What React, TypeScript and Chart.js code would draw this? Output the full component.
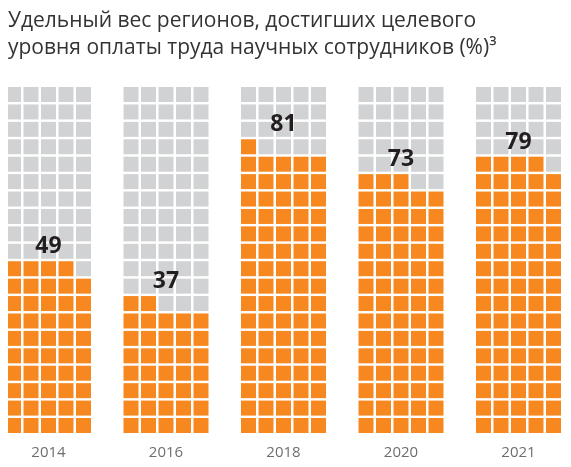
import { useEffect, useRef } from "react"
import { Chart, registerables } from "chart.js"

Chart.register(...registerables)

const years = ["2014", "2016", "2018", "2020", "2021"]
const shares = [49, 37, 81, 73, 79]
const titleLines = [
  "Удельный вес регионов, достигших целевого",
  "уровня оплаты труда научных сотрудников (%)³",
]

const COLS = 5
const ROWS = 20
const GROUP_STEP = 117.5 / 17.5 // group spacing in column units
const CELL = 15
const ORANGE = "#f7881f"
const GREY = "#d1d2d4"

export default function App() {
  const chartRef = useRef<HTMLCanvasElement | null>(null)
  const chartInstance = useRef<Chart | null>(null)

  useEffect(() => {
    document.body.style.margin = "0"
    if (!chartRef.current) return

    const filled: { x: number; y: number }[] = []
    const empty: { x: number; y: number }[] = []
    shares.forEach((v, g) => {
      for (let k = 0; k < COLS * ROWS; k++) {
        const pt = { x: g * GROUP_STEP + (k % COLS), y: Math.floor(k / COLS) }
        if (k < v) filled.push(pt)
        else empty.push(pt)
      }
    })

    const valueLabels = {
      id: "valueLabels",
      afterDatasetsDraw(chart: Chart) {
        const { ctx, scales } = chart
        ctx.save()
        ctx.font = "bold 23px 'Open Sans'"
        ctx.fillStyle = "#231f20"
        ctx.textAlign = "center"
        ctx.textBaseline = "alphabetic"
        shares.forEach((v, g) => {
          const row = Math.floor((v - 1) / COLS)
          const x = scales.x.getPixelForValue(g * GROUP_STEP + 2)
          const top = scales.y.getPixelForValue(row) - CELL / 2
          ctx.fillText(String(v), x, top - 8)
        })
        ctx.restore()
      },
    }

    if (chartInstance.current) {
      chartInstance.current.destroy()
    }

    const ctx = chartRef.current.getContext("2d")

    if (ctx) {
      chartInstance.current = new Chart(ctx, {
        type: "scatter",
        data: {
          datasets: [
            {
              label: "filled",
              data: filled,
              backgroundColor: ORANGE,
              borderWidth: 0,
              pointStyle: "rect",
              pointRadius: CELL / Math.SQRT2,
              pointHoverRadius: CELL / Math.SQRT2,
            },
            {
              label: "empty",
              data: empty,
              backgroundColor: GREY,
              borderWidth: 0,
              pointStyle: "rect",
              pointRadius: CELL / Math.SQRT2,
              pointHoverRadius: CELL / Math.SQRT2,
            },
          ],
        },
        options: {
          animation: false,
          responsive: true,
          maintainAspectRatio: false,
          events: [],
          layout: {
            autoPadding: false,
            padding: { left: 8, top: 0, right: 0, bottom: 0 },
          },
          plugins: {
            legend: { display: false },
            tooltip: { enabled: false },
            title: {
              display: true,
              text: titleLines,
              align: "start",
              color: "#333333",
              font: { family: "'Open Sans'", size: 21, weight: 500, lineHeight: 27 / 21 },
              padding: { top: 8, bottom: 4 },
            },
          },
          scales: {
            x: {
              type: "linear",
              min: -5.5 / 17.5,
              max: (COLS - 1) + (shares.length - 1) * GROUP_STEP + 1,
              grid: { display: false, drawTicks: false },
              border: { display: false },
              afterBuildTicks: (scale) => {
                scale.ticks = years.map((_, g) => ({ value: g * GROUP_STEP + 2 }))
              },
              afterFit: (scale) => {
                scale.height = 34
              },
              ticks: {
                autoSkip: false,
                maxRotation: 0,
                padding: 11,
                color: "#6d6e71",
                font: { family: "'Open Sans'", size: 15 },
                callback: (_v, i) => years[i],
              },
            },
            y: {
              display: false,
              min: -7.5 / 17.42,
              max: -7.5 / 17.42 + (433 - 66) / 17.42,
            },
          },
        },
        plugins: [valueLabels],
      })
    }

    return () => {
      if (chartInstance.current) {
        chartInstance.current.destroy()
      }
    }
  }, [])

  return (
    <div style={{ width: 571, height: 467, position: "relative" }}>
      <canvas ref={chartRef} />
    </div>
  )
}
